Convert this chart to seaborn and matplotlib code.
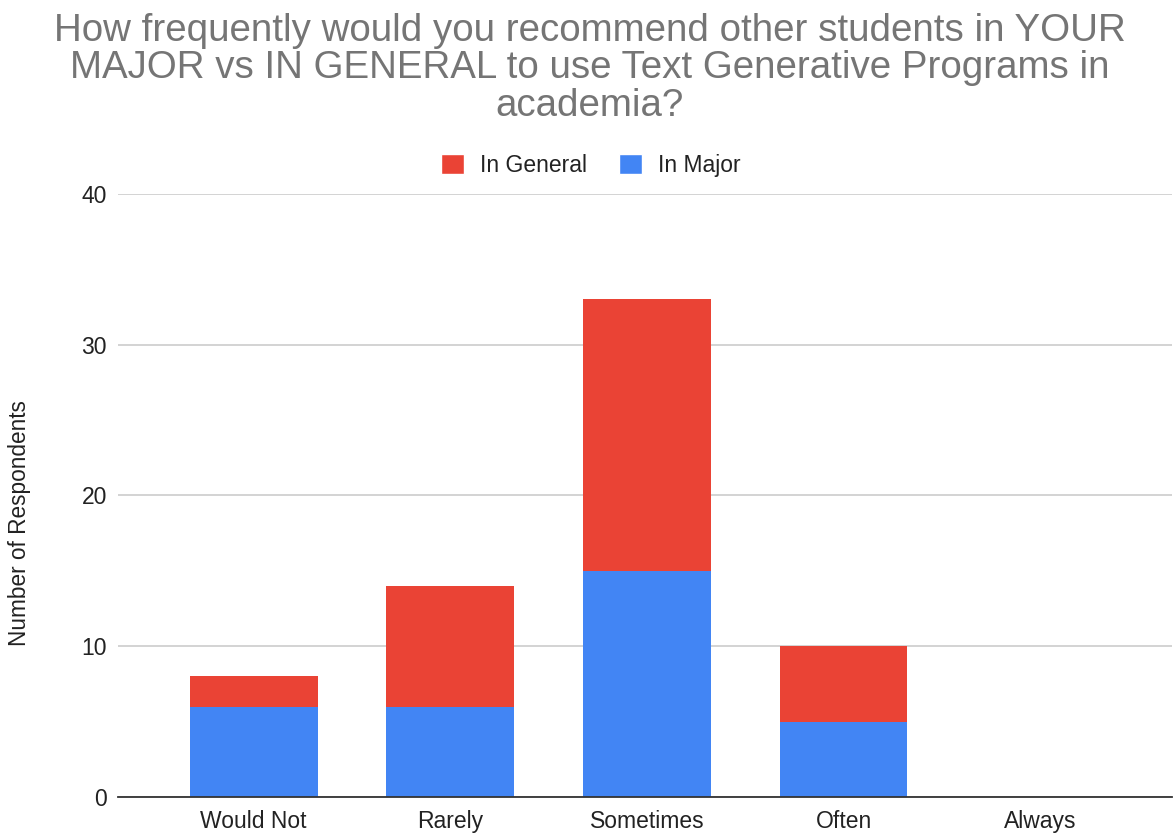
import matplotlib
matplotlib.use("Agg")
import matplotlib.pyplot as plt
import seaborn as sns
import pandas as pd
from matplotlib.patches import Patch

categories = ["Would Not", "Rarely", "Sometimes", "Often", "Always"]
in_major = [6, 6, 15, 5, 0]
in_general = [2, 8, 18, 5, 0]
y_ticks = [0, 10, 20, 30, 40]

title = "How frequently would you recommend other students in YOUR\nMAJOR vs IN GENERAL to use Text Generative Programs in\nacademia?"

sns.set_theme(style="white")
plt.rcParams['font.family'] = ['Liberation Sans', 'DejaVu Sans']

RED = "#EA4335"
BLUE = "#4285F4"

df = pd.DataFrame({
    "category": categories,
    "major": in_major,
    "general": in_general,
})
df["total"] = df["major"] + df["general"]

fig = plt.figure(figsize=(11.75, 8.36), dpi=100)
ax = fig.add_axes([0.1004, 0.0467, 0.8970, 0.7213])

sns.barplot(data=df, x="category", y="total", color=RED, width=0.65,
            saturation=1, ax=ax, zorder=3, linewidth=0, edgecolor="none")
sns.barplot(data=df, x="category", y="major", color=BLUE, width=0.65,
            saturation=1, ax=ax, zorder=4, linewidth=0, edgecolor="none")

ax.set_ylim(0, 40)
ax.set_xlim(-0.69, 4.67)
ax.set_yticks(y_ticks)
ax.yaxis.grid(True, color="#cccccc", linewidth=1.2, zorder=0)
ax.set_axisbelow(True)
for s in ["top", "right", "left"]:
    ax.spines[s].set_visible(False)
ax.spines["bottom"].set_color("#333333")
ax.spines["bottom"].set_linewidth(1.3)
ax.spines["bottom"].set_zorder(5)
ax.tick_params(axis="both", length=0, labelsize=16.5, colors="#222222")
ax.tick_params(axis="y", pad=8)
ax.tick_params(axis="x", pad=9.5)
ax.set_xlabel("")
ax.set_ylabel("Number of Respondents", fontsize=16.3, color="#222222")
ax.yaxis.set_label_coords(-0.0825, 0.454)

fig.text(0.502, 0.984, title, ha="center", va="top", fontsize=27.7,
         color="#757575", linespacing=1.04)

handles = [Patch(facecolor=RED, label="In General"),
           Patch(facecolor=BLUE, label="In Major")]
fig.legend(handles=handles, loc="center", bbox_to_anchor=(0.503, 0.802),
           ncol=2, frameon=False, fontsize=16.5, handlelength=1.0,
           handleheight=1.0, handletextpad=0.7, columnspacing=1.4,
           labelcolor="#222222")

fig.savefig("out.png", dpi=100)
